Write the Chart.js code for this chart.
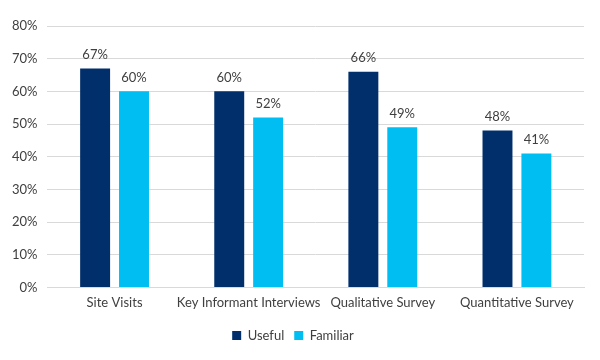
<!DOCTYPE html>
<html><head><meta charset="utf-8">
<script src="https://cdn.jsdelivr.net/npm/chart.js@4"></script>
<style>html,body{margin:0;padding:0;background:#fff}#wrap{width:600px;height:360px}</style>
</head><body><div id="wrap"><canvas id="c"></canvas></div>
<script>
const categories = ["Site Visits", "Key Informant Interviews", "Qualitative Survey", "Quantitative Survey"];
const useful = [67, 60, 66, 48];
const familiar = [60, 52, 49, 41];
const seriesNames = ["Useful", "Familiar"];
const FONT = 'Lato, "Open Sans", sans-serif';

const labelPlugin = {
  id: 'valLabels',
  afterDatasetsDraw(chart) {
    const ctx = chart.ctx;
    ctx.save();
    ctx.font = '13px ' + FONT;
    ctx.fillStyle = '#404040';
    ctx.textAlign = 'center';
    ctx.textBaseline = 'bottom';
    chart.data.datasets.forEach((ds, i) => {
      chart.getDatasetMeta(i).data.forEach((bar, j) => {
        ctx.fillText(ds.data[j] + '%', bar.x, bar.y - 7);
      });
    });
    ctx.restore();
  }
};

new Chart(document.getElementById('c'), {
  type: 'bar',
  data: {
    labels: categories,
    datasets: [
      { label: seriesNames[0], data: useful, backgroundColor: '#002f6c', categoryPercentage: 0.58, barPercentage: 0.77 },
      { label: seriesNames[1], data: familiar, backgroundColor: '#00bef2', categoryPercentage: 0.58, barPercentage: 0.77 }
    ]
  },
  options: {
    responsive: true, maintainAspectRatio: false, animation: false,
    layout: { padding: { left: 2, right: 16, top: 26, bottom: 8 } },
    plugins: {
      legend: { position: 'bottom', labels: { boxWidth: 9, boxHeight: 9, color: '#404040', font: { family: FONT, size: 13 }, padding: 10 } },
      tooltip: { enabled: false }
    },
    scales: {
      x: { grid: { display: false, drawTicks: false }, border: { color: '#d9d9d9', width: 1 }, ticks: { color: '#404040', maxRotation: 0, autoSkip: false, font: { family: FONT, size: 13 }, padding: 8 } },
      y: { min: 0, max: 80, ticks: { stepSize: 10, callback: v => v + '%', color: '#404040', font: { family: FONT, size: 13 }, padding: 10 }, grid: { color: '#d9d9d9', drawTicks: false }, border: { display: false } }
    }
  },
  plugins: [labelPlugin]
});
</script></body></html>
